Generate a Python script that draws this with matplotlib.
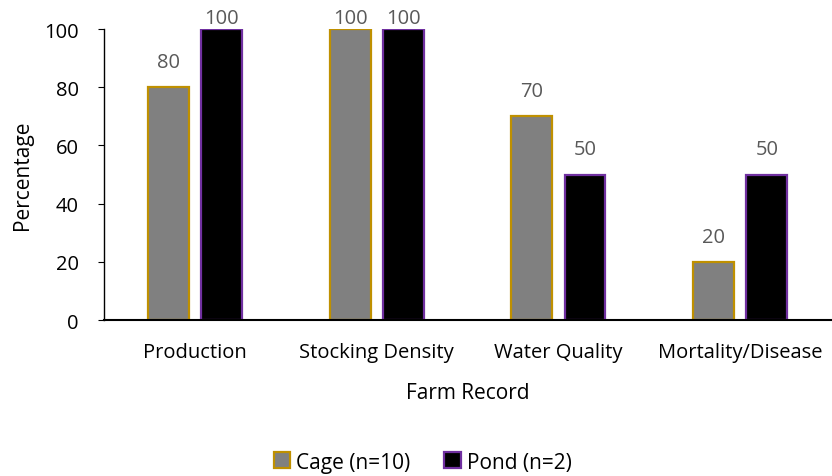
import matplotlib
matplotlib.use("Agg")
import matplotlib.pyplot as plt
import numpy as np

categories = ["Production", "Stocking Density", "Water Quality", "Mortality/Disease"]
cage = [80, 100, 70, 20]
pond = [100, 100, 50, 50]
series_names = ["Cage (n=10)", "Pond (n=2)"]
yticks = [0, 20, 40, 60, 80, 100]

plt.rcParams["font.family"] = ["Open Sans", "DejaVu Sans"]

fig = plt.figure(figsize=(8.32, 4.77), dpi=100)
ax = fig.add_axes([0.125, 0.327, 0.874, 0.610])

x = np.arange(len(categories))
w = 0.225
off = 0.146
b1 = ax.bar(x - off, cage, w, color="#808080", edgecolor="#BF9000", linewidth=1.6,
            label=series_names[0])
b2 = ax.bar(x + off, pond, w, color="#000000", edgecolor="#7030A0", linewidth=1.6,
            label=series_names[1])

# value labels above bars; labels at the top of the range are pulled down to stay on the page
for bars in (b1, b2):
    for rect in bars:
        h = rect.get_height()
        dy = 11 if h < 100 else 0.5
        t = ax.annotate(f"{h:g}", (rect.get_x() + rect.get_width() / 2, h),
                        xytext=(0, dy), textcoords="offset points",
                        ha="center", va="bottom", fontsize=14.5, color="#595959")
        t.set_clip_on(False)

ax.set_xlim(-0.5, len(categories) - 0.5)
ax.set_ylim(0, 100)
ax.set_yticks(yticks)
ax.set_xticks(x)
ax.set_xticklabels(categories)
ax.tick_params(axis="x", length=0, pad=16, labelsize=14.5, colors="#000000")
ax.tick_params(axis="y", length=4, width=0.8, pad=14, labelsize=14.5)
for s in ("top", "right"):
    ax.spines[s].set_visible(False)
ax.spines["left"].set_linewidth(1.0)
ax.spines["bottom"].set_linewidth(1.5)

ax.set_ylabel("Percentage", fontsize=15, labelpad=8)
ax.set_xlabel("Farm Record", fontsize=15, labelpad=14)

fig.legend(handles=[b1, b2], loc="center", bbox_to_anchor=(0.508, 0.029),
           ncol=2, frameon=False, fontsize=15, handlelength=0.8, handleheight=0.8,
           handletextpad=0.3, columnspacing=1.6)

fig.savefig("out.png", dpi=100)
